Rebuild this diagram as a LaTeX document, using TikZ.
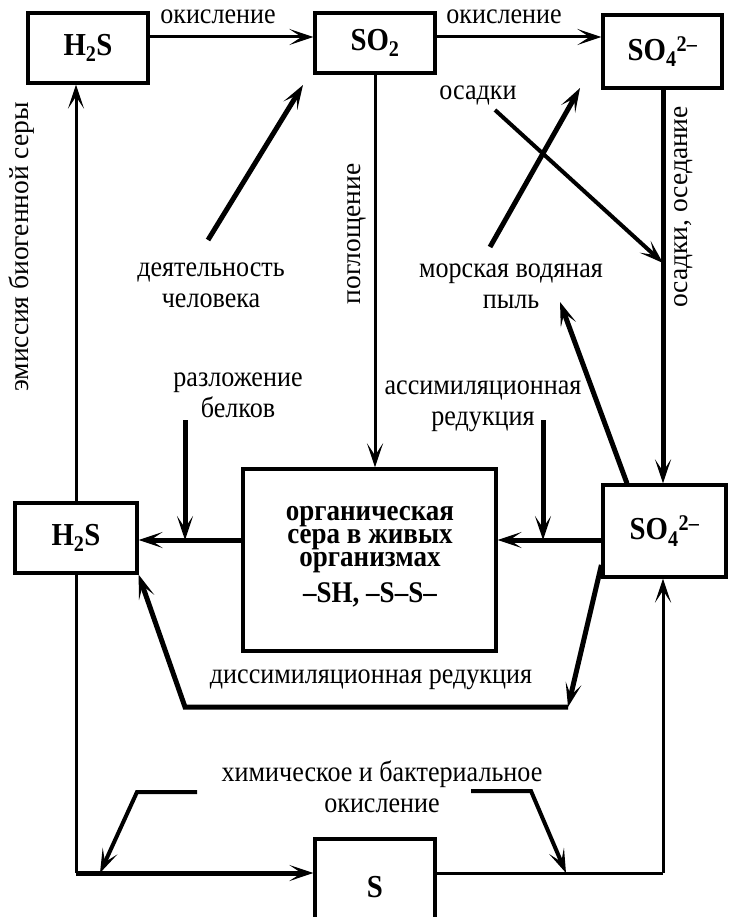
\documentclass[tikz,border=0pt]{standalone}
\usepackage{fontspec}
\setmainfont{Liberation Serif}[FakeStretch=0.9]
\newfontfamily\rotfont{Liberation Serif}
\usetikzlibrary{arrows.meta}
\begin{document}
\begin{tikzpicture}[x=1pt,y=-1pt,
  box/.style={draw, line width=3.2pt, inner sep=0pt, font=\fontsize{32}{34}\selectfont\bfseries},
  lbl/.style={inner sep=0pt, align=center, font=\fontsize{29}{31}\selectfont},
  rlbl/.style={inner sep=0pt, rotate=90, font=\rotfont\fontsize{27.5}{30}\selectfont},
  thinline/.style={line width=3pt},
  fatline/.style={line width=5pt},
  arr/.style={-{Stealth[length=24pt,width=16pt,inset=12pt]}}
]
\useasboundingbox (0,0) rectangle (728,917);
\clip (0,0) rectangle (728,917);

% boxes
\node[box, minimum width=120pt, minimum height=70pt] (H2St) at (88,48) {H\textsubscript{2}S};
\node[box, minimum width=120pt, minimum height=60pt] (SO2) at (375,43) {SO\textsubscript{2}};
\node[box, minimum width=119pt, minimum height=73pt] (SO4t) at (662.5,51.5) {SO\textsubscript{4}\textsuperscript{2–}};
\node[box, minimum width=122pt, minimum height=70pt] (H2Sl) at (76,538) {H\textsubscript{2}S};
\node[box, minimum width=253pt, minimum height=182pt] (org) at (369.5,560) {};
\node[inner sep=0pt, align=center, font=\fontsize{30}{23}\selectfont\bfseries] (orgtext) at (370,557)
  {органическая\\сера в живых\\организмах\\[9pt]–SH, –S–S–};
\node[box, minimum width=123pt, minimum height=92pt] (SO4l) at (664.5,531) {SO\textsubscript{4}\textsuperscript{2–}};
\node[box, minimum width=120pt, minimum height=96pt] (S) at (375,887) {S};

% labels
\node[lbl] (l1) at (218,17) {окисление};
\node[lbl] (l2) at (504,17) {окисление};
\node[rlbl] (l3) at (22,247) {эмиссия биогенной серы};
\node[rlbl] (l4) at (357,234) {поглощение};
\node[rlbl] (l5) at (684,207) {осадки, оседание};
\node[lbl] (l6) at (211,285) {деятельность\\человека};
\node[lbl] (l7) at (478,95) {осадки};
\node[lbl] (l8) at (511,286) {морская водяная\\пыль};
\node[lbl] (l9) at (483,406) {ассимиляционная\\редукция};
\node[lbl] (l10) at (238,395) {разложение\\белков};
\node[lbl] (l11) at (371,680) {диссимиляционная редукция};
\node[lbl] (l12) at (382,787) {химическое и бактериальное\\окисление};

% coordinates
\coordinate (hc1) at (208,240);
\coordinate (hc2) at (303,85);
\coordinate (os1) at (495,110);
\coordinate (os2) at (663,263);
\coordinate (mw1) at (490,247);
\coordinate (mw2) at (580,88);
\coordinate (mw3) at (560,302);
\coordinate (as1) at (543,420);
\coordinate (as2) at (543,540);
\coordinate (rb1) at (185,420);
\coordinate (rb2) at (185,540);
\coordinate (d1) at (568,707);
\coordinate (d2) at (185,707);
\coordinate (bl) at (76,873);
\coordinate (br) at (663,873);
\coordinate (cl1) at (197,792);
\coordinate (cl2) at (137,792);
\coordinate (cl3) at (100,873);
\coordinate (cr1) at (471,791);
\coordinate (cr2) at (531,791);
\coordinate (cr3) at (566,873);

% connectors
\draw[thinline,arr] (H2St.east |- 0,37) -- (SO2.west |- 0,37);
\draw[thinline,arr] (SO2.east |- 0,37) -- (SO4t.west |- 0,37);
\draw[thinline,arr] (SO2.south) -- (org.north -| SO2.south);
\draw[fatline,arr] (SO4t.south -| 663,0) -- (SO4l.north -| 663,0);
\draw[fatline,arr] (hc1) -- (hc2);
\draw[line width=4pt,arr] (os1) -- (os2);
\draw[fatline,arr] (mw1) -- (mw2);
\draw[fatline,arr] (SO4l.north -| 627,0) -- (mw3);
\draw[fatline,arr] (as1) -- (as2);
\draw[fatline,arr] (SO4l.west |- 0,540) -- (org.east |- 0,540);
\draw[fatline,arr] (org.west |- 0,540) -- (H2Sl.east |- 0,540);
\draw[fatline,arr] (rb1) -- (rb2);
\draw[thinline,arr] (H2Sl.north) -- (H2Sl.north |- H2St.south);
\draw[fatline,arr] (SO4l.west |- 0,565) -- (d1);
\draw[fatline,arr] (d1) -- (d2) -- (H2Sl.south east);
\draw[thinline] (H2Sl.south) -- (bl);
\draw[fatline,arr] (bl) -- (S.west |- bl);
\draw[thinline] (S.east |- br) -- (br);
\draw[thinline,arr] (br) -- (SO4l.south -| br);
\draw[line width=4pt,arr] (cl1) -- (cl2) -- (cl3);
\draw[line width=4pt,arr] (cr1) -- (cr2) -- (cr3);
\end{tikzpicture}
\end{document}
